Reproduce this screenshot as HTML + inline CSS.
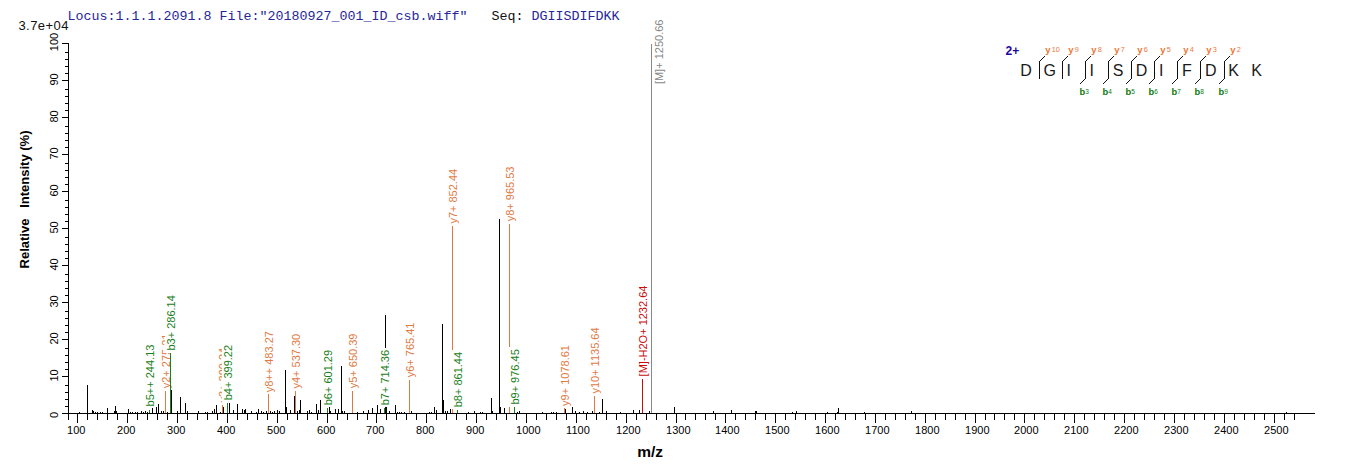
<!DOCTYPE html>
<html><head><meta charset="utf-8"><style>
html,body{margin:0;padding:0;background:#fff;width:1362px;height:473px;overflow:hidden}
svg{display:block;font-family:"Liberation Sans",sans-serif}
</style></head><body>
<svg width="1362" height="473" viewBox="0 0 1362 473">
<text x="67.5" y="19.5" font-family="Liberation Mono" font-size="13.33" fill="#26269a" xml:space="preserve">Locus:1.1.1.2091.8 File:"20180927_001_ID_csb.wiff"   <tspan fill="#111">Seq:</tspan> DGIISDIFDKK</text>
<text x="18.4" y="30.2" font-size="13" letter-spacing="0.45" fill="#111">3.7e+04</text>
<g shape-rendering="crispEdges">
<rect x="79" y="412" width="1" height="2" fill="#000"/>
<rect x="87" y="385" width="1" height="29" fill="#000"/>
<rect x="92" y="410" width="1" height="4" fill="#000"/>
<rect x="93" y="411" width="1" height="3" fill="#000"/>
<rect x="95" y="412" width="1" height="2" fill="#000"/>
<rect x="97" y="412" width="1" height="2" fill="#000"/>
<rect x="100" y="412" width="1" height="2" fill="#000"/>
<rect x="102" y="412" width="1" height="2" fill="#000"/>
<rect x="107" y="408" width="1" height="6" fill="#000"/>
<rect x="114" y="411" width="1" height="3" fill="#000"/>
<rect x="115" y="406" width="1" height="8" fill="#000"/>
<rect x="116" y="411" width="1" height="3" fill="#000"/>
<rect x="128" y="409" width="1" height="5" fill="#000"/>
<rect x="130" y="412" width="1" height="2" fill="#000"/>
<rect x="132" y="412" width="1" height="2" fill="#000"/>
<rect x="135" y="412" width="1" height="2" fill="#000"/>
<rect x="137" y="412" width="1" height="2" fill="#000"/>
<rect x="141" y="411" width="1" height="3" fill="#000"/>
<rect x="143" y="412" width="1" height="2" fill="#000"/>
<rect x="145" y="411" width="1" height="3" fill="#000"/>
<rect x="147" y="412" width="1" height="2" fill="#000"/>
<rect x="152" y="408" width="1" height="6" fill="#000"/>
<rect x="156" y="407" width="1" height="7" fill="#000"/>
<rect x="158" y="404" width="1" height="10" fill="#000"/>
<rect x="161" y="411" width="1" height="3" fill="#000"/>
<rect x="163" y="411" width="1" height="3" fill="#000"/>
<rect x="167" y="412" width="1" height="2" fill="#000"/>
<rect x="171" y="389" width="1" height="25" fill="#000"/>
<rect x="177" y="411" width="1" height="3" fill="#000"/>
<rect x="180" y="397" width="1" height="17" fill="#000"/>
<rect x="185" y="403" width="1" height="11" fill="#000"/>
<rect x="187" y="411" width="1" height="3" fill="#000"/>
<rect x="198" y="411" width="1" height="3" fill="#000"/>
<rect x="205" y="412" width="1" height="2" fill="#000"/>
<rect x="207" y="412" width="1" height="2" fill="#000"/>
<rect x="212" y="411" width="1" height="3" fill="#000"/>
<rect x="214" y="409" width="1" height="5" fill="#000"/>
<rect x="216" y="405" width="1" height="9" fill="#000"/>
<rect x="220" y="412" width="1" height="2" fill="#000"/>
<rect x="223" y="407" width="1" height="7" fill="#000"/>
<rect x="229" y="403" width="1" height="11" fill="#000"/>
<rect x="233" y="410" width="1" height="4" fill="#000"/>
<rect x="237" y="404" width="1" height="10" fill="#000"/>
<rect x="242" y="409" width="1" height="5" fill="#000"/>
<rect x="244" y="410" width="1" height="4" fill="#000"/>
<rect x="245" y="409" width="1" height="5" fill="#000"/>
<rect x="251" y="411" width="1" height="3" fill="#000"/>
<rect x="256" y="412" width="1" height="2" fill="#000"/>
<rect x="258" y="409" width="1" height="5" fill="#000"/>
<rect x="261" y="411" width="1" height="3" fill="#000"/>
<rect x="263" y="412" width="1" height="2" fill="#000"/>
<rect x="266" y="411" width="1" height="3" fill="#000"/>
<rect x="270" y="411" width="1" height="3" fill="#000"/>
<rect x="272" y="412" width="1" height="2" fill="#000"/>
<rect x="274" y="411" width="1" height="3" fill="#000"/>
<rect x="277" y="410" width="1" height="4" fill="#000"/>
<rect x="279" y="411" width="1" height="3" fill="#000"/>
<rect x="285" y="370" width="1" height="44" fill="#000"/>
<rect x="286" y="407" width="1" height="7" fill="#000"/>
<rect x="290" y="410" width="1" height="4" fill="#000"/>
<rect x="294" y="396" width="1" height="18" fill="#000"/>
<rect x="297" y="411" width="1" height="3" fill="#000"/>
<rect x="299" y="410" width="1" height="4" fill="#000"/>
<rect x="300" y="400" width="1" height="14" fill="#000"/>
<rect x="307" y="411" width="1" height="3" fill="#000"/>
<rect x="309" y="410" width="1" height="4" fill="#000"/>
<rect x="311" y="412" width="1" height="2" fill="#000"/>
<rect x="316" y="404" width="1" height="10" fill="#000"/>
<rect x="318" y="410" width="1" height="4" fill="#000"/>
<rect x="320" y="400" width="1" height="14" fill="#000"/>
<rect x="329" y="406" width="1" height="8" fill="#000"/>
<rect x="330" y="411" width="1" height="3" fill="#000"/>
<rect x="335" y="409" width="1" height="5" fill="#000"/>
<rect x="338" y="409" width="1" height="5" fill="#000"/>
<rect x="341" y="366" width="1" height="48" fill="#000"/>
<rect x="342" y="411" width="1" height="3" fill="#000"/>
<rect x="344" y="411" width="1" height="3" fill="#000"/>
<rect x="357" y="412" width="1" height="2" fill="#000"/>
<rect x="363" y="411" width="1" height="3" fill="#000"/>
<rect x="368" y="410" width="1" height="4" fill="#000"/>
<rect x="372" y="408" width="1" height="6" fill="#000"/>
<rect x="377" y="405" width="1" height="9" fill="#000"/>
<rect x="380" y="409" width="1" height="5" fill="#000"/>
<rect x="385" y="315" width="1" height="99" fill="#000"/>
<rect x="386" y="407" width="1" height="7" fill="#000"/>
<rect x="389" y="411" width="1" height="3" fill="#000"/>
<rect x="395" y="405" width="1" height="9" fill="#000"/>
<rect x="397" y="412" width="1" height="2" fill="#000"/>
<rect x="399" y="412" width="1" height="2" fill="#000"/>
<rect x="401" y="412" width="1" height="2" fill="#000"/>
<rect x="404" y="412" width="1" height="2" fill="#000"/>
<rect x="411" y="411" width="1" height="3" fill="#000"/>
<rect x="429" y="412" width="1" height="2" fill="#000"/>
<rect x="431" y="412" width="1" height="2" fill="#000"/>
<rect x="434" y="407" width="1" height="7" fill="#000"/>
<rect x="436" y="410" width="1" height="4" fill="#000"/>
<rect x="442" y="324" width="1" height="90" fill="#000"/>
<rect x="443" y="400" width="1" height="14" fill="#000"/>
<rect x="445" y="411" width="1" height="3" fill="#000"/>
<rect x="447" y="411" width="1" height="3" fill="#000"/>
<rect x="450" y="409" width="1" height="5" fill="#000"/>
<rect x="468" y="412" width="1" height="2" fill="#000"/>
<rect x="474" y="411" width="1" height="3" fill="#000"/>
<rect x="480" y="412" width="1" height="2" fill="#000"/>
<rect x="482" y="412" width="1" height="2" fill="#000"/>
<rect x="491" y="398" width="1" height="16" fill="#000"/>
<rect x="492" y="411" width="1" height="3" fill="#000"/>
<rect x="499" y="219" width="1" height="195" fill="#000"/>
<rect x="500" y="407" width="1" height="7" fill="#000"/>
<rect x="504" y="408" width="1" height="6" fill="#000"/>
<rect x="517" y="412" width="1" height="2" fill="#000"/>
<rect x="519" y="411" width="1" height="3" fill="#000"/>
<rect x="542" y="412" width="1" height="2" fill="#000"/>
<rect x="551" y="412" width="1" height="2" fill="#000"/>
<rect x="553" y="412" width="1" height="2" fill="#000"/>
<rect x="556" y="412" width="1" height="2" fill="#000"/>
<rect x="565" y="409" width="1" height="5" fill="#000"/>
<rect x="572" y="407" width="1" height="7" fill="#000"/>
<rect x="575" y="411" width="1" height="3" fill="#000"/>
<rect x="579" y="412" width="1" height="2" fill="#000"/>
<rect x="583" y="411" width="1" height="3" fill="#000"/>
<rect x="587" y="412" width="1" height="2" fill="#000"/>
<rect x="592" y="411" width="1" height="3" fill="#000"/>
<rect x="599" y="412" width="1" height="2" fill="#000"/>
<rect x="602" y="399" width="1" height="15" fill="#000"/>
<rect x="606" y="411" width="1" height="3" fill="#000"/>
<rect x="620" y="412" width="1" height="2" fill="#000"/>
<rect x="633" y="410" width="1" height="4" fill="#000"/>
<rect x="639" y="410" width="1" height="4" fill="#000"/>
<rect x="649" y="411" width="1" height="3" fill="#000"/>
<rect x="674" y="407" width="1" height="7" fill="#000"/>
<rect x="713" y="411" width="1" height="3" fill="#000"/>
<rect x="731" y="410" width="1" height="4" fill="#000"/>
<rect x="755" y="411" width="1" height="3" fill="#000"/>
<rect x="756" y="411" width="1" height="3" fill="#000"/>
<rect x="792" y="412" width="1" height="2" fill="#000"/>
<rect x="796" y="411" width="1" height="3" fill="#000"/>
<rect x="827" y="412" width="1" height="2" fill="#000"/>
<rect x="837" y="412" width="1" height="2" fill="#000"/>
<rect x="838" y="408" width="1" height="6" fill="#000"/>
<rect x="864" y="412" width="1" height="2" fill="#000"/>
<rect x="911" y="411" width="1" height="3" fill="#000"/>
<rect x="1286" y="412" width="1" height="2" fill="#000"/>
<rect x="149" y="410" width="1" height="4" fill="#1a801a"/>
<rect x="144" y="342.6" width="12" height="65.8" fill="#fff"/>
<text transform="translate(154,406.4) rotate(-90)" fill="#1a801a" font-size="11">b5++ 244.13</text>
<rect x="165" y="391" width="1" height="23" fill="#e07a44"/>
<rect x="160" y="331.6" width="12" height="58.7" fill="#fff"/>
<text transform="translate(170,388.29999999999995) rotate(-90)" fill="#e07a44" font-size="11">y2+ 275.21</text>
<rect x="170" y="353" width="1" height="61" fill="#1a801a"/>
<rect x="165" y="293.1" width="12" height="59.4" fill="#fff"/>
<text transform="translate(175,350.5) rotate(-90)" fill="#1a801a" font-size="11">b3+ 286.14</text>
<rect x="222" y="405" width="1" height="9" fill="#e07a44"/>
<rect x="217" y="345.8" width="12" height="58.7" fill="#fff"/>
<text transform="translate(227,402.5) rotate(-90)" fill="#e07a44" font-size="11">y3+ 390.24</text>
<rect x="227" y="403" width="1" height="11" fill="#1a801a"/>
<rect x="222" y="342.9" width="12" height="59.4" fill="#fff"/>
<text transform="translate(232,400.29999999999995) rotate(-90)" fill="#1a801a" font-size="11">b4+ 399.22</text>
<rect x="268" y="394" width="1" height="20" fill="#e07a44"/>
<rect x="263" y="329.1" width="12" height="65.2" fill="#fff"/>
<text transform="translate(273,392.29999999999995) rotate(-90)" fill="#e07a44" font-size="11">y8++ 483.27</text>
<rect x="295" y="391" width="1" height="23" fill="#e07a44"/>
<rect x="290" y="331.8" width="12" height="58.7" fill="#fff"/>
<text transform="translate(300,388.5) rotate(-90)" fill="#e07a44" font-size="11">y4+ 537.30</text>
<rect x="327" y="408" width="1" height="6" fill="#1a801a"/>
<rect x="322" y="347.9" width="12" height="59.4" fill="#fff"/>
<text transform="translate(332,405.29999999999995) rotate(-90)" fill="#1a801a" font-size="11">b6+ 601.29</text>
<rect x="352" y="391" width="1" height="23" fill="#e07a44"/>
<rect x="347" y="331.6" width="12" height="58.7" fill="#fff"/>
<text transform="translate(357,388.29999999999995) rotate(-90)" fill="#e07a44" font-size="11">y5+ 650.39</text>
<rect x="384" y="408" width="1" height="6" fill="#1a801a"/>
<rect x="379" y="347.9" width="12" height="59.4" fill="#fff"/>
<text transform="translate(389,405.29999999999995) rotate(-90)" fill="#1a801a" font-size="11">b7+ 714.36</text>
<rect x="409" y="380" width="1" height="34" fill="#e07a44"/>
<rect x="404" y="320.6" width="12" height="58.7" fill="#fff"/>
<text transform="translate(414,377.29999999999995) rotate(-90)" fill="#e07a44" font-size="11">y6+ 765.41</text>
<rect x="452" y="226" width="1" height="188" fill="#e07a44"/>
<rect x="447" y="166.9" width="12" height="58.7" fill="#fff"/>
<text transform="translate(457,223.6) rotate(-90)" fill="#e07a44" font-size="11">y7+ 852.44</text>
<rect x="457" y="410" width="1" height="4" fill="#1a801a"/>
<rect x="452" y="349.9" width="12" height="59.4" fill="#fff"/>
<text transform="translate(462,407.29999999999995) rotate(-90)" fill="#1a801a" font-size="11">b8+ 861.44</text>
<rect x="509" y="224" width="1" height="190" fill="#e07a44"/>
<rect x="504" y="164.6" width="12" height="58.7" fill="#fff"/>
<text transform="translate(514,221.3) rotate(-90)" fill="#e07a44" font-size="11">y8+ 965.53</text>
<rect x="514" y="407" width="1" height="7" fill="#1a801a"/>
<rect x="509" y="347.2" width="12" height="59.4" fill="#fff"/>
<text transform="translate(519,404.59999999999997) rotate(-90)" fill="#1a801a" font-size="11">b9+ 976.45</text>
<rect x="564" y="407" width="1" height="7" fill="#e07a44"/>
<rect x="559" y="343.0" width="12" height="64.9" fill="#fff"/>
<text transform="translate(569,405.9) rotate(-90)" fill="#e07a44" font-size="11">y9+ 1078.61</text>
<rect x="594" y="396" width="1" height="18" fill="#e07a44"/>
<rect x="589" y="324.6" width="12" height="71.0" fill="#fff"/>
<text transform="translate(599,393.59999999999997) rotate(-90)" fill="#e07a44" font-size="11">y10+ 1135.64</text>
<rect x="642" y="379" width="1" height="35" fill="#c80c0c"/>
<rect x="637" y="283.6" width="12" height="94.8" fill="#fff"/>
<text transform="translate(647,376.4) rotate(-90)" fill="#c80c0c" font-size="11">[M]-H2O+ 1232.64</text>
<rect x="651" y="44" width="1" height="370" fill="#888888"/>
<rect x="653" y="17.6" width="12" height="68.5" fill="#fff"/>
<text transform="translate(663,84.1) rotate(-90)" fill="#888888" font-size="11">[M]+ 1250.66</text>
<rect x="62" y="413" width="1253" height="1" fill="#000"/>
<rect x="68" y="43" width="1" height="377" fill="#000"/>
<rect x="62" y="413" width="7" height="1" fill="#000"/>
<text transform="translate(57.8,418.0) rotate(-90)" font-size="11">0</text>
<rect x="65" y="406" width="4" height="1" fill="#000"/>
<rect x="65" y="399" width="4" height="1" fill="#000"/>
<rect x="65" y="392" width="4" height="1" fill="#000"/>
<rect x="65" y="385" width="4" height="1" fill="#000"/>
<rect x="62" y="376" width="7" height="1" fill="#000"/>
<text transform="translate(57.8,381.6) rotate(-90)" font-size="11">10</text>
<rect x="65" y="369" width="4" height="1" fill="#000"/>
<rect x="65" y="362" width="4" height="1" fill="#000"/>
<rect x="65" y="355" width="4" height="1" fill="#000"/>
<rect x="65" y="348" width="4" height="1" fill="#000"/>
<rect x="62" y="339" width="7" height="1" fill="#000"/>
<text transform="translate(57.8,344.6) rotate(-90)" font-size="11">20</text>
<rect x="65" y="332" width="4" height="1" fill="#000"/>
<rect x="65" y="325" width="4" height="1" fill="#000"/>
<rect x="65" y="318" width="4" height="1" fill="#000"/>
<rect x="65" y="311" width="4" height="1" fill="#000"/>
<rect x="62" y="302" width="7" height="1" fill="#000"/>
<text transform="translate(57.8,307.6) rotate(-90)" font-size="11">30</text>
<rect x="65" y="295" width="4" height="1" fill="#000"/>
<rect x="65" y="288" width="4" height="1" fill="#000"/>
<rect x="65" y="281" width="4" height="1" fill="#000"/>
<rect x="65" y="274" width="4" height="1" fill="#000"/>
<rect x="62" y="265" width="7" height="1" fill="#000"/>
<text transform="translate(57.8,270.6) rotate(-90)" font-size="11">40</text>
<rect x="65" y="258" width="4" height="1" fill="#000"/>
<rect x="65" y="251" width="4" height="1" fill="#000"/>
<rect x="65" y="244" width="4" height="1" fill="#000"/>
<rect x="65" y="237" width="4" height="1" fill="#000"/>
<rect x="62" y="228" width="7" height="1" fill="#000"/>
<text transform="translate(57.8,233.6) rotate(-90)" font-size="11">50</text>
<rect x="65" y="221" width="4" height="1" fill="#000"/>
<rect x="65" y="214" width="4" height="1" fill="#000"/>
<rect x="65" y="207" width="4" height="1" fill="#000"/>
<rect x="65" y="200" width="4" height="1" fill="#000"/>
<rect x="62" y="191" width="7" height="1" fill="#000"/>
<text transform="translate(57.8,196.6) rotate(-90)" font-size="11">60</text>
<rect x="65" y="184" width="4" height="1" fill="#000"/>
<rect x="65" y="177" width="4" height="1" fill="#000"/>
<rect x="65" y="170" width="4" height="1" fill="#000"/>
<rect x="65" y="163" width="4" height="1" fill="#000"/>
<rect x="62" y="154" width="7" height="1" fill="#000"/>
<text transform="translate(57.8,159.6) rotate(-90)" font-size="11">70</text>
<rect x="65" y="147" width="4" height="1" fill="#000"/>
<rect x="65" y="140" width="4" height="1" fill="#000"/>
<rect x="65" y="133" width="4" height="1" fill="#000"/>
<rect x="65" y="126" width="4" height="1" fill="#000"/>
<rect x="62" y="117" width="7" height="1" fill="#000"/>
<text transform="translate(57.8,122.6) rotate(-90)" font-size="11">80</text>
<rect x="65" y="110" width="4" height="1" fill="#000"/>
<rect x="65" y="103" width="4" height="1" fill="#000"/>
<rect x="65" y="96" width="4" height="1" fill="#000"/>
<rect x="65" y="89" width="4" height="1" fill="#000"/>
<rect x="62" y="80" width="7" height="1" fill="#000"/>
<text transform="translate(57.8,85.6) rotate(-90)" font-size="11">90</text>
<rect x="65" y="73" width="4" height="1" fill="#000"/>
<rect x="65" y="66" width="4" height="1" fill="#000"/>
<rect x="65" y="59" width="4" height="1" fill="#000"/>
<rect x="65" y="52" width="4" height="1" fill="#000"/>
<rect x="62" y="43" width="7" height="1" fill="#000"/>
<text transform="translate(57.8,51.2) rotate(-90)" font-size="11">100</text>
<rect x="77" y="413" width="1" height="10" fill="#000"/>
<text x="67.1" y="433.7" font-size="11">100</text>
<rect x="87" y="413" width="1" height="7" fill="#000"/>
<rect x="97" y="413" width="1" height="7" fill="#000"/>
<rect x="107" y="413" width="1" height="7" fill="#000"/>
<rect x="117" y="413" width="1" height="7" fill="#000"/>
<rect x="127" y="413" width="1" height="10" fill="#000"/>
<text x="117.1" y="433.7" font-size="11">200</text>
<rect x="137" y="413" width="1" height="7" fill="#000"/>
<rect x="147" y="413" width="1" height="7" fill="#000"/>
<rect x="157" y="413" width="1" height="7" fill="#000"/>
<rect x="167" y="413" width="1" height="7" fill="#000"/>
<rect x="177" y="413" width="1" height="10" fill="#000"/>
<text x="167.1" y="433.7" font-size="11">300</text>
<rect x="187" y="413" width="1" height="7" fill="#000"/>
<rect x="197" y="413" width="1" height="7" fill="#000"/>
<rect x="207" y="413" width="1" height="7" fill="#000"/>
<rect x="217" y="413" width="1" height="7" fill="#000"/>
<rect x="227" y="413" width="1" height="10" fill="#000"/>
<text x="217.1" y="433.7" font-size="11">400</text>
<rect x="237" y="413" width="1" height="7" fill="#000"/>
<rect x="247" y="413" width="1" height="7" fill="#000"/>
<rect x="257" y="413" width="1" height="7" fill="#000"/>
<rect x="267" y="413" width="1" height="7" fill="#000"/>
<rect x="277" y="413" width="1" height="10" fill="#000"/>
<text x="267.1" y="433.7" font-size="11">500</text>
<rect x="287" y="413" width="1" height="7" fill="#000"/>
<rect x="297" y="413" width="1" height="7" fill="#000"/>
<rect x="307" y="413" width="1" height="7" fill="#000"/>
<rect x="317" y="413" width="1" height="7" fill="#000"/>
<rect x="327" y="413" width="1" height="10" fill="#000"/>
<text x="317.1" y="433.7" font-size="11">600</text>
<rect x="337" y="413" width="1" height="7" fill="#000"/>
<rect x="347" y="413" width="1" height="7" fill="#000"/>
<rect x="357" y="413" width="1" height="7" fill="#000"/>
<rect x="367" y="413" width="1" height="7" fill="#000"/>
<rect x="376" y="413" width="1" height="10" fill="#000"/>
<text x="366.1" y="433.7" font-size="11">700</text>
<rect x="386" y="413" width="1" height="7" fill="#000"/>
<rect x="396" y="413" width="1" height="7" fill="#000"/>
<rect x="406" y="413" width="1" height="7" fill="#000"/>
<rect x="416" y="413" width="1" height="7" fill="#000"/>
<rect x="426" y="413" width="1" height="10" fill="#000"/>
<text x="416.1" y="433.7" font-size="11">800</text>
<rect x="436" y="413" width="1" height="7" fill="#000"/>
<rect x="446" y="413" width="1" height="7" fill="#000"/>
<rect x="456" y="413" width="1" height="7" fill="#000"/>
<rect x="466" y="413" width="1" height="7" fill="#000"/>
<rect x="476" y="413" width="1" height="10" fill="#000"/>
<text x="466.1" y="433.7" font-size="11">900</text>
<rect x="486" y="413" width="1" height="7" fill="#000"/>
<rect x="496" y="413" width="1" height="7" fill="#000"/>
<rect x="506" y="413" width="1" height="7" fill="#000"/>
<rect x="516" y="413" width="1" height="7" fill="#000"/>
<rect x="526" y="413" width="1" height="10" fill="#000"/>
<text x="516.1" y="433.7" font-size="11">1000</text>
<rect x="536" y="413" width="1" height="7" fill="#000"/>
<rect x="546" y="413" width="1" height="7" fill="#000"/>
<rect x="556" y="413" width="1" height="7" fill="#000"/>
<rect x="566" y="413" width="1" height="7" fill="#000"/>
<rect x="576" y="413" width="1" height="10" fill="#000"/>
<text x="566.1" y="433.7" font-size="11">1100</text>
<rect x="586" y="413" width="1" height="7" fill="#000"/>
<rect x="596" y="413" width="1" height="7" fill="#000"/>
<rect x="606" y="413" width="1" height="7" fill="#000"/>
<rect x="616" y="413" width="1" height="7" fill="#000"/>
<rect x="626" y="413" width="1" height="10" fill="#000"/>
<text x="616.1" y="433.7" font-size="11">1200</text>
<rect x="636" y="413" width="1" height="7" fill="#000"/>
<rect x="646" y="413" width="1" height="7" fill="#000"/>
<rect x="656" y="413" width="1" height="7" fill="#000"/>
<rect x="666" y="413" width="1" height="7" fill="#000"/>
<rect x="676" y="413" width="1" height="10" fill="#000"/>
<text x="666.1" y="433.7" font-size="11">1300</text>
<rect x="685" y="413" width="1" height="7" fill="#000"/>
<rect x="695" y="413" width="1" height="7" fill="#000"/>
<rect x="705" y="413" width="1" height="7" fill="#000"/>
<rect x="715" y="413" width="1" height="7" fill="#000"/>
<rect x="725" y="413" width="1" height="10" fill="#000"/>
<text x="715.1" y="433.7" font-size="11">1400</text>
<rect x="735" y="413" width="1" height="7" fill="#000"/>
<rect x="745" y="413" width="1" height="7" fill="#000"/>
<rect x="755" y="413" width="1" height="7" fill="#000"/>
<rect x="765" y="413" width="1" height="7" fill="#000"/>
<rect x="775" y="413" width="1" height="10" fill="#000"/>
<text x="765.1" y="433.7" font-size="11">1500</text>
<rect x="785" y="413" width="1" height="7" fill="#000"/>
<rect x="795" y="413" width="1" height="7" fill="#000"/>
<rect x="805" y="413" width="1" height="7" fill="#000"/>
<rect x="815" y="413" width="1" height="7" fill="#000"/>
<rect x="825" y="413" width="1" height="10" fill="#000"/>
<text x="815.1" y="433.7" font-size="11">1600</text>
<rect x="835" y="413" width="1" height="7" fill="#000"/>
<rect x="845" y="413" width="1" height="7" fill="#000"/>
<rect x="855" y="413" width="1" height="7" fill="#000"/>
<rect x="865" y="413" width="1" height="7" fill="#000"/>
<rect x="875" y="413" width="1" height="10" fill="#000"/>
<text x="865.1" y="433.7" font-size="11">1700</text>
<rect x="885" y="413" width="1" height="7" fill="#000"/>
<rect x="895" y="413" width="1" height="7" fill="#000"/>
<rect x="905" y="413" width="1" height="7" fill="#000"/>
<rect x="915" y="413" width="1" height="7" fill="#000"/>
<rect x="925" y="413" width="1" height="10" fill="#000"/>
<text x="915.1" y="433.7" font-size="11">1800</text>
<rect x="935" y="413" width="1" height="7" fill="#000"/>
<rect x="945" y="413" width="1" height="7" fill="#000"/>
<rect x="955" y="413" width="1" height="7" fill="#000"/>
<rect x="965" y="413" width="1" height="7" fill="#000"/>
<rect x="975" y="413" width="1" height="10" fill="#000"/>
<text x="965.1" y="433.7" font-size="11">1900</text>
<rect x="985" y="413" width="1" height="7" fill="#000"/>
<rect x="994" y="413" width="1" height="7" fill="#000"/>
<rect x="1004" y="413" width="1" height="7" fill="#000"/>
<rect x="1014" y="413" width="1" height="7" fill="#000"/>
<rect x="1024" y="413" width="1" height="10" fill="#000"/>
<text x="1014.1" y="433.7" font-size="11">2000</text>
<rect x="1034" y="413" width="1" height="7" fill="#000"/>
<rect x="1044" y="413" width="1" height="7" fill="#000"/>
<rect x="1054" y="413" width="1" height="7" fill="#000"/>
<rect x="1064" y="413" width="1" height="7" fill="#000"/>
<rect x="1074" y="413" width="1" height="10" fill="#000"/>
<text x="1064.1" y="433.7" font-size="11">2100</text>
<rect x="1084" y="413" width="1" height="7" fill="#000"/>
<rect x="1094" y="413" width="1" height="7" fill="#000"/>
<rect x="1104" y="413" width="1" height="7" fill="#000"/>
<rect x="1114" y="413" width="1" height="7" fill="#000"/>
<rect x="1124" y="413" width="1" height="10" fill="#000"/>
<text x="1114.1" y="433.7" font-size="11">2200</text>
<rect x="1134" y="413" width="1" height="7" fill="#000"/>
<rect x="1144" y="413" width="1" height="7" fill="#000"/>
<rect x="1154" y="413" width="1" height="7" fill="#000"/>
<rect x="1164" y="413" width="1" height="7" fill="#000"/>
<rect x="1174" y="413" width="1" height="10" fill="#000"/>
<text x="1164.1" y="433.7" font-size="11">2300</text>
<rect x="1184" y="413" width="1" height="7" fill="#000"/>
<rect x="1194" y="413" width="1" height="7" fill="#000"/>
<rect x="1204" y="413" width="1" height="7" fill="#000"/>
<rect x="1214" y="413" width="1" height="7" fill="#000"/>
<rect x="1224" y="413" width="1" height="10" fill="#000"/>
<text x="1214.1" y="433.7" font-size="11">2400</text>
<rect x="1234" y="413" width="1" height="7" fill="#000"/>
<rect x="1244" y="413" width="1" height="7" fill="#000"/>
<rect x="1254" y="413" width="1" height="7" fill="#000"/>
<rect x="1264" y="413" width="1" height="7" fill="#000"/>
<rect x="1274" y="413" width="1" height="10" fill="#000"/>
<text x="1264.1" y="433.7" font-size="11">2500</text>
<rect x="1284" y="413" width="1" height="7" fill="#000"/>
<rect x="1294" y="413" width="1" height="7" fill="#000"/>
</g>
<text transform="translate(29,199.5) rotate(-90)" text-anchor="middle" font-size="13" font-weight="bold" xml:space="preserve">Relative   Intensity (%)</text>
<text x="650.2" y="456.8" text-anchor="middle" font-size="15.5" font-weight="bold">m/z</text>
<text x="1020.3" y="75.5" font-size="16" fill="#1a1a1a">D</text>
<text x="1043.4" y="75.5" font-size="16" fill="#1a1a1a">G</text>
<text x="1066.5" y="75.5" font-size="16" fill="#1a1a1a">I</text>
<text x="1089.6" y="75.5" font-size="16" fill="#1a1a1a">I</text>
<text x="1112.7" y="75.5" font-size="16" fill="#1a1a1a">S</text>
<text x="1135.8" y="75.5" font-size="16" fill="#1a1a1a">D</text>
<text x="1158.9" y="75.5" font-size="16" fill="#1a1a1a">I</text>
<text x="1182.0" y="75.5" font-size="16" fill="#1a1a1a">F</text>
<text x="1205.1" y="75.5" font-size="16" fill="#1a1a1a">D</text>
<text x="1228.2" y="75.5" font-size="16" fill="#1a1a1a">K</text>
<text x="1251.3" y="75.5" font-size="16" fill="#1a1a1a">K</text>
<rect x="1039" y="61" width="1" height="18" fill="#111"/>
<line x1="1039.5" y1="61.5" x2="1045.0" y2="56" stroke="#111" stroke-width="1"/>
<text x="1045.2" y="53.4" font-size="9.5" font-weight="bold" fill="#ec7838">y</text>
<text x="1051.7" y="52.2" font-size="7.3" fill="#ec7838">10</text>
<rect x="1062" y="61" width="1" height="18" fill="#111"/>
<line x1="1062.5" y1="61.5" x2="1068.0" y2="56" stroke="#111" stroke-width="1"/>
<text x="1068.2" y="53.4" font-size="9.5" font-weight="bold" fill="#ec7838">y</text>
<text x="1074.7" y="52.2" font-size="7.3" fill="#ec7838">9</text>
<rect x="1085" y="61" width="1" height="18" fill="#111"/>
<line x1="1085.5" y1="61.5" x2="1091.0" y2="56" stroke="#111" stroke-width="1"/>
<line x1="1085.5" y1="78.5" x2="1080.0" y2="84" stroke="#111" stroke-width="1"/>
<text x="1091.2" y="53.4" font-size="9.5" font-weight="bold" fill="#ec7838">y</text>
<text x="1097.7" y="52.2" font-size="7.3" fill="#ec7838">8</text>
<text x="1079.4" y="95.2" font-size="9.3" font-weight="bold" fill="#0c780c">b</text>
<text x="1085.3" y="94.1" font-size="6.5" fill="#0c780c">3</text>
<rect x="1108" y="61" width="1" height="18" fill="#111"/>
<line x1="1108.5" y1="61.5" x2="1114.0" y2="56" stroke="#111" stroke-width="1"/>
<line x1="1108.5" y1="78.5" x2="1103.0" y2="84" stroke="#111" stroke-width="1"/>
<text x="1114.2" y="53.4" font-size="9.5" font-weight="bold" fill="#ec7838">y</text>
<text x="1120.7" y="52.2" font-size="7.3" fill="#ec7838">7</text>
<text x="1102.4" y="95.2" font-size="9.3" font-weight="bold" fill="#0c780c">b</text>
<text x="1108.3" y="94.1" font-size="6.5" fill="#0c780c">4</text>
<rect x="1131" y="61" width="1" height="18" fill="#111"/>
<line x1="1131.5" y1="61.5" x2="1137.0" y2="56" stroke="#111" stroke-width="1"/>
<line x1="1131.5" y1="78.5" x2="1126.0" y2="84" stroke="#111" stroke-width="1"/>
<text x="1137.2" y="53.4" font-size="9.5" font-weight="bold" fill="#ec7838">y</text>
<text x="1143.7" y="52.2" font-size="7.3" fill="#ec7838">6</text>
<text x="1125.4" y="95.2" font-size="9.3" font-weight="bold" fill="#0c780c">b</text>
<text x="1131.3" y="94.1" font-size="6.5" fill="#0c780c">5</text>
<rect x="1154" y="61" width="1" height="18" fill="#111"/>
<line x1="1154.5" y1="61.5" x2="1160.0" y2="56" stroke="#111" stroke-width="1"/>
<line x1="1154.5" y1="78.5" x2="1149.0" y2="84" stroke="#111" stroke-width="1"/>
<text x="1160.2" y="53.4" font-size="9.5" font-weight="bold" fill="#ec7838">y</text>
<text x="1166.7" y="52.2" font-size="7.3" fill="#ec7838">5</text>
<text x="1148.4" y="95.2" font-size="9.3" font-weight="bold" fill="#0c780c">b</text>
<text x="1154.3" y="94.1" font-size="6.5" fill="#0c780c">6</text>
<rect x="1177" y="61" width="1" height="18" fill="#111"/>
<line x1="1177.5" y1="61.5" x2="1183.0" y2="56" stroke="#111" stroke-width="1"/>
<line x1="1177.5" y1="78.5" x2="1172.0" y2="84" stroke="#111" stroke-width="1"/>
<text x="1183.2" y="53.4" font-size="9.5" font-weight="bold" fill="#ec7838">y</text>
<text x="1189.7" y="52.2" font-size="7.3" fill="#ec7838">4</text>
<text x="1171.4" y="95.2" font-size="9.3" font-weight="bold" fill="#0c780c">b</text>
<text x="1177.3" y="94.1" font-size="6.5" fill="#0c780c">7</text>
<rect x="1200" y="61" width="1" height="18" fill="#111"/>
<line x1="1200.5" y1="61.5" x2="1206.0" y2="56" stroke="#111" stroke-width="1"/>
<line x1="1200.5" y1="78.5" x2="1195.0" y2="84" stroke="#111" stroke-width="1"/>
<text x="1206.2" y="53.4" font-size="9.5" font-weight="bold" fill="#ec7838">y</text>
<text x="1212.7" y="52.2" font-size="7.3" fill="#ec7838">3</text>
<text x="1194.4" y="95.2" font-size="9.3" font-weight="bold" fill="#0c780c">b</text>
<text x="1200.3" y="94.1" font-size="6.5" fill="#0c780c">8</text>
<rect x="1224" y="61" width="1" height="18" fill="#111"/>
<line x1="1224.5" y1="61.5" x2="1230.0" y2="56" stroke="#111" stroke-width="1"/>
<line x1="1224.5" y1="78.5" x2="1219.0" y2="84" stroke="#111" stroke-width="1"/>
<text x="1230.2" y="53.4" font-size="9.5" font-weight="bold" fill="#ec7838">y</text>
<text x="1236.7" y="52.2" font-size="7.3" fill="#ec7838">2</text>
<text x="1218.4" y="95.2" font-size="9.3" font-weight="bold" fill="#0c780c">b</text>
<text x="1224.3" y="94.1" font-size="6.5" fill="#0c780c">9</text>
<text x="1005.5" y="55.2" font-size="12" font-weight="bold" fill="#1c08a8">2+</text>
</svg>
</body></html>
